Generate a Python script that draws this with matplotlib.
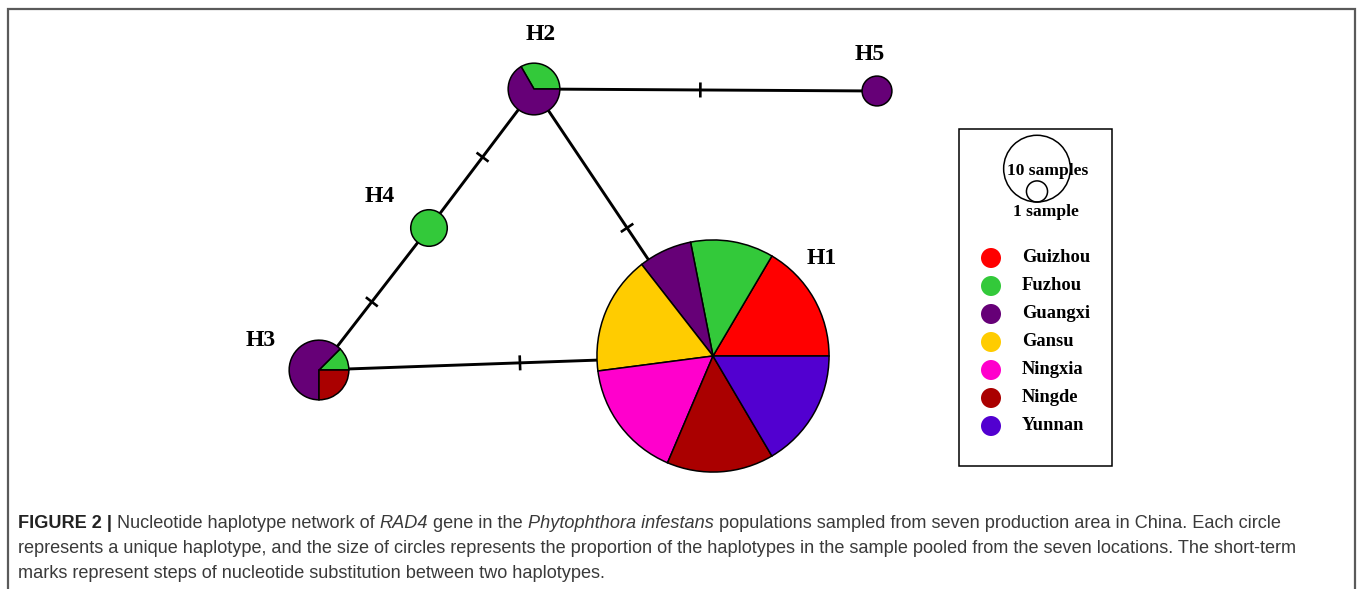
import matplotlib
matplotlib.use("Agg")
import matplotlib.pyplot as plt
from matplotlib.patches import Circle, Rectangle

W, H = 1357, 589

# ---------------- data ----------------
populations = ["Guizhou", "Fuzhou", "Guangxi", "Gansu", "Ningxia", "Ningde", "Yunnan"]
pop_colors = ["#FF0000", "#33C93A", "#660077", "#FFCC00", "#FF00CC", "#AA0000", "#5200D0"]

haplotypes = ["H1", "H2", "H3", "H4", "H5"]
# sample counts per population (order = populations)
H1_counts = [20, 14, 9, 20, 20, 18, 20]
H2_counts = [0, 2, 4, 0, 0, 0, 0]
H3_counts = [0, 1, 5, 0, 0, 2, 0]
H4_counts = [0, 3, 0, 0, 0, 0, 0]
H5_counts = [0, 0, 2, 0, 0, 0, 0]
hap_counts = [H1_counts, H2_counts, H3_counts, H4_counts, H5_counts]

# network edges (haplotype pairs) and number of mutation steps
edges = [("H2", "H5"), ("H2", "H1"), ("H2", "H4"), ("H4", "H3"), ("H3", "H1")]
edge_steps = [1, 1, 1, 1, 1]

legend_sizes = [10, 1]
legend_size_labels = ["10 samples", "1 sample"]

caption_lines = [
    [("FIGURE 2 |", "bold"), (" Nucleotide haplotype network of ", "normal"), ("RAD4", "italic"),
     (" gene in the ", "normal"), ("Phytophthora infestans", "italic"),
     (" populations sampled from seven production area in China. Each circle", "normal")],
    [("represents a unique haplotype, and the size of circles represents the proportion of the haplotypes in the sample pooled from the seven locations. The short-term", "normal")],
    [("marks represent steps of nucleotide substitution between two haplotypes.", "normal")],
]

# ---------------- layout (pixel coords, y from top) ----------------
node_pos = {"H1": (713, 356), "H2": (534, 89), "H3": (319, 370), "H4": (429, 228), "H5": (877, 91)}
label_pos = {"H1": (822, 258), "H2": (541, 35), "H3": (261, 341), "H4": (380, 197), "H5": (870, 55)}
tick_frac = {("H2", "H5"): 0.485, ("H2", "H1"): 0.52, ("H2", "H4"): 0.49, ("H4", "H3"): 0.52, ("H3", "H1"): 0.51}
K = 10.55  # radius scale: r = K*sqrt(n)


def Y(y):
    return H - y


fig = plt.figure(figsize=(W / 100, H / 100), dpi=100)
ax = fig.add_axes([0, 0, 1, 1])
ax.set_xlim(0, W)
ax.set_ylim(0, H)
ax.axis("off")

# outer frame
ax.plot([8, 8, 1355, 1355], [Y(589), Y(9), Y(9), Y(589)], color="#5a5a5a", lw=1.6,
        solid_joinstyle="miter", zorder=1)

# edges
for (a, b), nstep in zip(edges, edge_steps):
    xa, ya = node_pos[a]
    xb, yb = node_pos[b]
    ax.plot([xa, xb], [Y(ya), Y(yb)], color="black", lw=2.1, zorder=2, solid_capstyle="butt")
    dx, dy = xb - xa, yb - ya
    L = (dx ** 2 + dy ** 2) ** 0.5
    px, py = -dy / L, dx / L
    f = tick_frac[(a, b)]
    for s in range(nstep):
        cx, cy = xa + dx * f, ya + dy * f
        hl = 7.5
        ax.plot([cx - px * hl, cx + px * hl], [Y(cy - py * hl), Y(cy + py * hl)],
                color="black", lw=1.9, zorder=2, solid_capstyle="butt")

# pies
for name, counts in zip(haplotypes, hap_counts):
    vals = [c for c in counts if c > 0]
    cols = [col for c, col in zip(counts, pop_colors) if c > 0]
    n = sum(counts)
    x, y = node_pos[name]
    ax.pie(vals, colors=cols, center=(x, Y(y)), radius=K * n ** 0.5, startangle=0,
           counterclock=True, frame=True,
           wedgeprops=dict(edgecolor="black", linewidth=1.1, zorder=3))
    lx, ly = label_pos[name]
    ax.text(lx, Y(ly), name, family="Liberation Serif", fontweight="bold", fontsize=17,
            ha="center", va="center", zorder=5)

ax.set_xlim(0, W)
ax.set_ylim(0, H)
ax.set_aspect("auto")

# legend box
ax.add_patch(Rectangle((959, Y(466)), 1112 - 959, 466 - 129, fill=False, edgecolor="black", lw=1.1, zorder=4))
base_y = 202
for s in legend_sizes:
    r = K * s ** 0.5
    ax.add_patch(Circle((1037, Y(base_y - r)), r, fill=False, edgecolor="black", lw=1.1, zorder=4))
ax.text(1048, Y(171), legend_size_labels[0], family="Liberation Serif", fontweight="bold",
        fontsize=12.6, ha="center", va="center", zorder=5)
ax.text(1046, Y(212), legend_size_labels[1], family="Liberation Serif", fontweight="bold",
        fontsize=12.6, ha="center", va="center", zorder=5)

for i, (p, c) in enumerate(zip(populations, pop_colors)):
    yy = 258 + i * 28
    ax.add_patch(Circle((991, Y(yy)), 10, facecolor=c, edgecolor="none", zorder=4))
    ax.text(1022, Y(yy), p, family="Liberation Serif", fontweight="bold", fontsize=13.3,
            ha="left", va="center", zorder=5)

# caption
fig.canvas.draw()
rend = fig.canvas.get_renderer()
cap_fs = 12.0
cap_color = "#3a3a3a"
cap_family = "Liberation Sans"


def measure(s, weight, style, fs):
    t = ax.text(0, 0, s, family=cap_family, fontweight=weight, fontstyle=style, fontsize=fs)
    w = t.get_window_extent(renderer=rend).width
    t.remove()
    return w


def piece_width(s, kind, fs):
    weight = "bold" if kind == "bold" else "normal"
    style = "italic" if kind == "italic" else "normal"
    return measure("|" + s + "|", weight, style, fs) - 2 * measure("|", weight, style, fs) + \
        (measure("||", weight, style, fs) - 2 * measure("|", weight, style, fs))


# fit first line width to ~1269 px
w1 = sum(piece_width(s, k, cap_fs) for s, k in caption_lines[0])
cap_fs = cap_fs * 1269.0 / w1

baselines = [528, 553, 578]
for line, bl in zip(caption_lines, baselines):
    x = 18
    for s, kind in line:
        weight = "bold" if kind == "bold" else "normal"
        style = "italic" if kind == "italic" else "normal"
        ax.text(x, Y(bl), s, family=cap_family, fontweight=weight, fontstyle=style,
                fontsize=cap_fs, color=cap_color if kind != "bold" else "#222222",
                ha="left", va="baseline")
        x += piece_width(s, kind, cap_fs)

fig.savefig("out.png", dpi=100)
